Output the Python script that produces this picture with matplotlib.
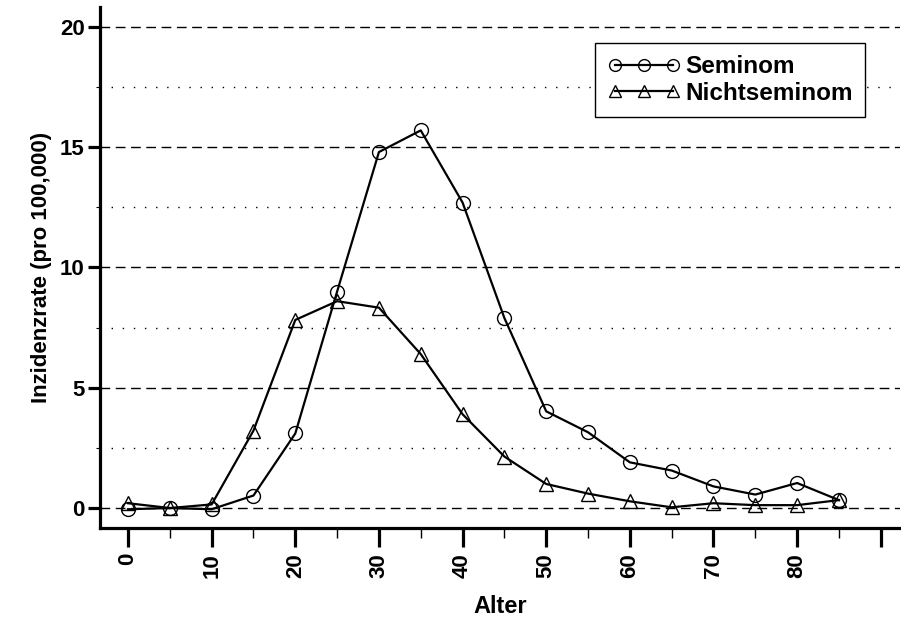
import matplotlib
matplotlib.use("Agg")
import matplotlib.pyplot as plt
from matplotlib.ticker import MultipleLocator, FixedLocator

plt.rcParams['font.family'] = ['Liberation Sans', 'DejaVu Sans']
plt.rcParams['font.weight'] = 'bold'

# data
alter = [0, 5, 10, 15, 20, 25, 30, 35, 40, 45, 50, 55, 60, 65, 70, 75, 80, 85]
seminom = [-0.05, 0.0, -0.05, 0.52, 3.1, 9.0, 14.8, 15.7, 12.7, 7.9,
           4.02, 3.15, 1.9, 1.56, 0.9, 0.56, 1.04, 0.33]
nichtseminom = [0.2, 0.0, 0.15, 3.22, 7.82, 8.6, 8.33, 6.4, 3.9, 2.14,
                1.0, 0.6, 0.28, 0.03, 0.2, 0.12, 0.12, 0.33]
xticks = [0, 10, 20, 30, 40, 50, 60, 70, 80, 90]
xticklabels = ['0', '10', '20', '30', '40', '50', '60', '70', '80', '']
yticks = [0, 5, 10, 15, 20]

fig = plt.figure(figsize=(9.01, 6.24), dpi=100)
ax = fig.add_axes([100 / 901, 96 / 624, 800 / 901, 521 / 624])

ax.plot(alter, seminom, color='black', lw=1.6, marker='o', ms=10,
        mfc='none', mec='black', mew=1.0, label='Seminom', zorder=3)
ax.plot(alter, nichtseminom, color='black', lw=1.6, marker='^', ms=10,
        mfc='none', mec='black', mew=1.0, label='Nichtseminom', zorder=3)

ax.set_xlim(-3.35, 92.3)
ax.set_ylim(-0.83, 20.83)

# axes look
for side in ['top', 'right']:
    ax.spines[side].set_visible(False)
for side in ['left', 'bottom']:
    ax.spines[side].set_linewidth(2.3)

ax.xaxis.set_major_locator(FixedLocator(xticks))
ax.set_xticklabels(xticklabels, rotation=90, fontsize=16, fontweight='bold')
ax.xaxis.set_minor_locator(FixedLocator([5, 15, 25, 35, 45, 55, 65, 75, 85]))
ax.yaxis.set_major_locator(FixedLocator(yticks))
ax.yaxis.set_minor_locator(MultipleLocator(2.5))
ax.set_yticklabels([str(v) for v in yticks], fontsize=16, fontweight='bold')

ax.tick_params(axis='x', which='major', length=14, width=2.3, pad=4)
ax.tick_params(axis='x', which='minor', length=7, width=1.0)
ax.tick_params(axis='y', which='major', length=9, width=2.3, pad=2)
ax.tick_params(axis='y', which='minor', length=3, width=0.8)

ax.grid(axis='y', which='major', color='black', lw=1.0, linestyle=(0, (7, 4)))
ax.grid(axis='y', which='minor', color='black', lw=1.0, linestyle=(0, (1, 7)))

ax.set_xlabel('Alter', fontsize=17, fontweight='bold', labelpad=12)
ax.set_ylabel('Inzidenzrate (pro 100,000)', fontsize=16, fontweight='bold', labelpad=6)

leg = ax.legend(loc='upper right', bbox_to_anchor=(865 / 901, 1 - 43 / 624),
                bbox_transform=fig.transFigure, numpoints=3, handlelength=3.0,
                handletextpad=0.2, fancybox=False, framealpha=1,
                prop={'size': 17.5, 'weight': 'bold'}, borderpad=0.5,
                labelspacing=0.15, borderaxespad=0, markerscale=0.85)
leg.get_frame().set_edgecolor('black')
leg.get_frame().set_linewidth(1.0)

fig.savefig('out.png', dpi=100)
